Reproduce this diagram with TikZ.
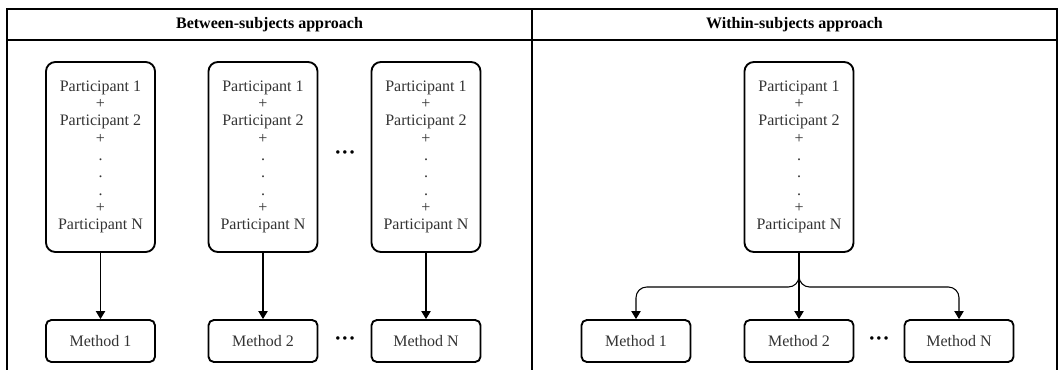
\documentclass[tikz,border=0pt]{standalone}
\usepackage{fontspec}
\setmainfont{Liberation Serif}
\usetikzlibrary{positioning,calc,arrows.meta}

\newcommand{\partlist}{Participant 1\\+\\Participant 2\\+\\.\\.\\.\\+\\Participant N}

\begin{document}
\begin{tikzpicture}[x=0.75pt,y=-0.75pt,
  pbox/.style={draw,line width=1.4pt,rounded corners=7pt,minimum width=81.75pt,minimum height=142.5pt,
    align=center,inner sep=0pt,font=\fontsize{12}{13}\selectfont,text=black!80},
  mbox/.style={draw,line width=1.4pt,rounded corners=4pt,minimum width=81.75pt,minimum height=31.5pt,
    inner sep=0pt,font=\fontsize{12}{14}\selectfont,text=black!80},
  head/.style={font=\fontsize{12}{14}\selectfont\bfseries},
  gap/.style={font=\fontsize{16}{18}\selectfont\bfseries,inner sep=0pt},
  arr/.style={line width=0.8pt,-{Triangle[length=6pt,width=7pt]}}]
  \useasboundingbox (0,0) rectangle (1062,369);
  % frame
  \draw[line width=1.4pt] (7,372) -- (7,9) -- (1057,9) -- (1057,372);
  \draw[line width=1.4pt] (7,40) -- (1057,40);
  \draw[line width=1.4pt] (532,9) -- (532,372);
  \node[head] (bhead) at (269.5,25) {Between-subjects approach};
  \node[head] (whead) at (794.5,25) {Within-subjects approach};
  % between subjects
  \foreach \i/\x/\m in {1/100.5/1,2/263/2,3/426/N}{%
    \node[pbox] (p\i) at (\x,157) {\partlist};
    \node[mbox] (m\i) at (\x,341) {Method \m};
    \draw[arr] (p\i) -- (m\i);
  }
  \node[gap] (pdots) at (345,155) {···};
  \node[gap] (mdots) at (345,341) {···};
  % within subjects
  \node[pbox] (wp) at (799,157) {\partlist};
  \foreach \i/\x/\m in {1/636/1,2/799/2,3/959/N}{%
    \node[mbox] (wm\i) at (\x,341) {Method \m};
  }
  \node[gap] (wdots) at (879,341) {···};
  \coordinate (split) at (799,287);
  \draw[arr,rounded corners=8pt] (wp.south) -- (split) -| (wm1.north);
  \draw[arr,rounded corners=8pt] (wp.south) -- (split) -| (wm3.north);
  \draw[arr] (wp.south) -- (wm2.north);
\end{tikzpicture}
\end{document}
